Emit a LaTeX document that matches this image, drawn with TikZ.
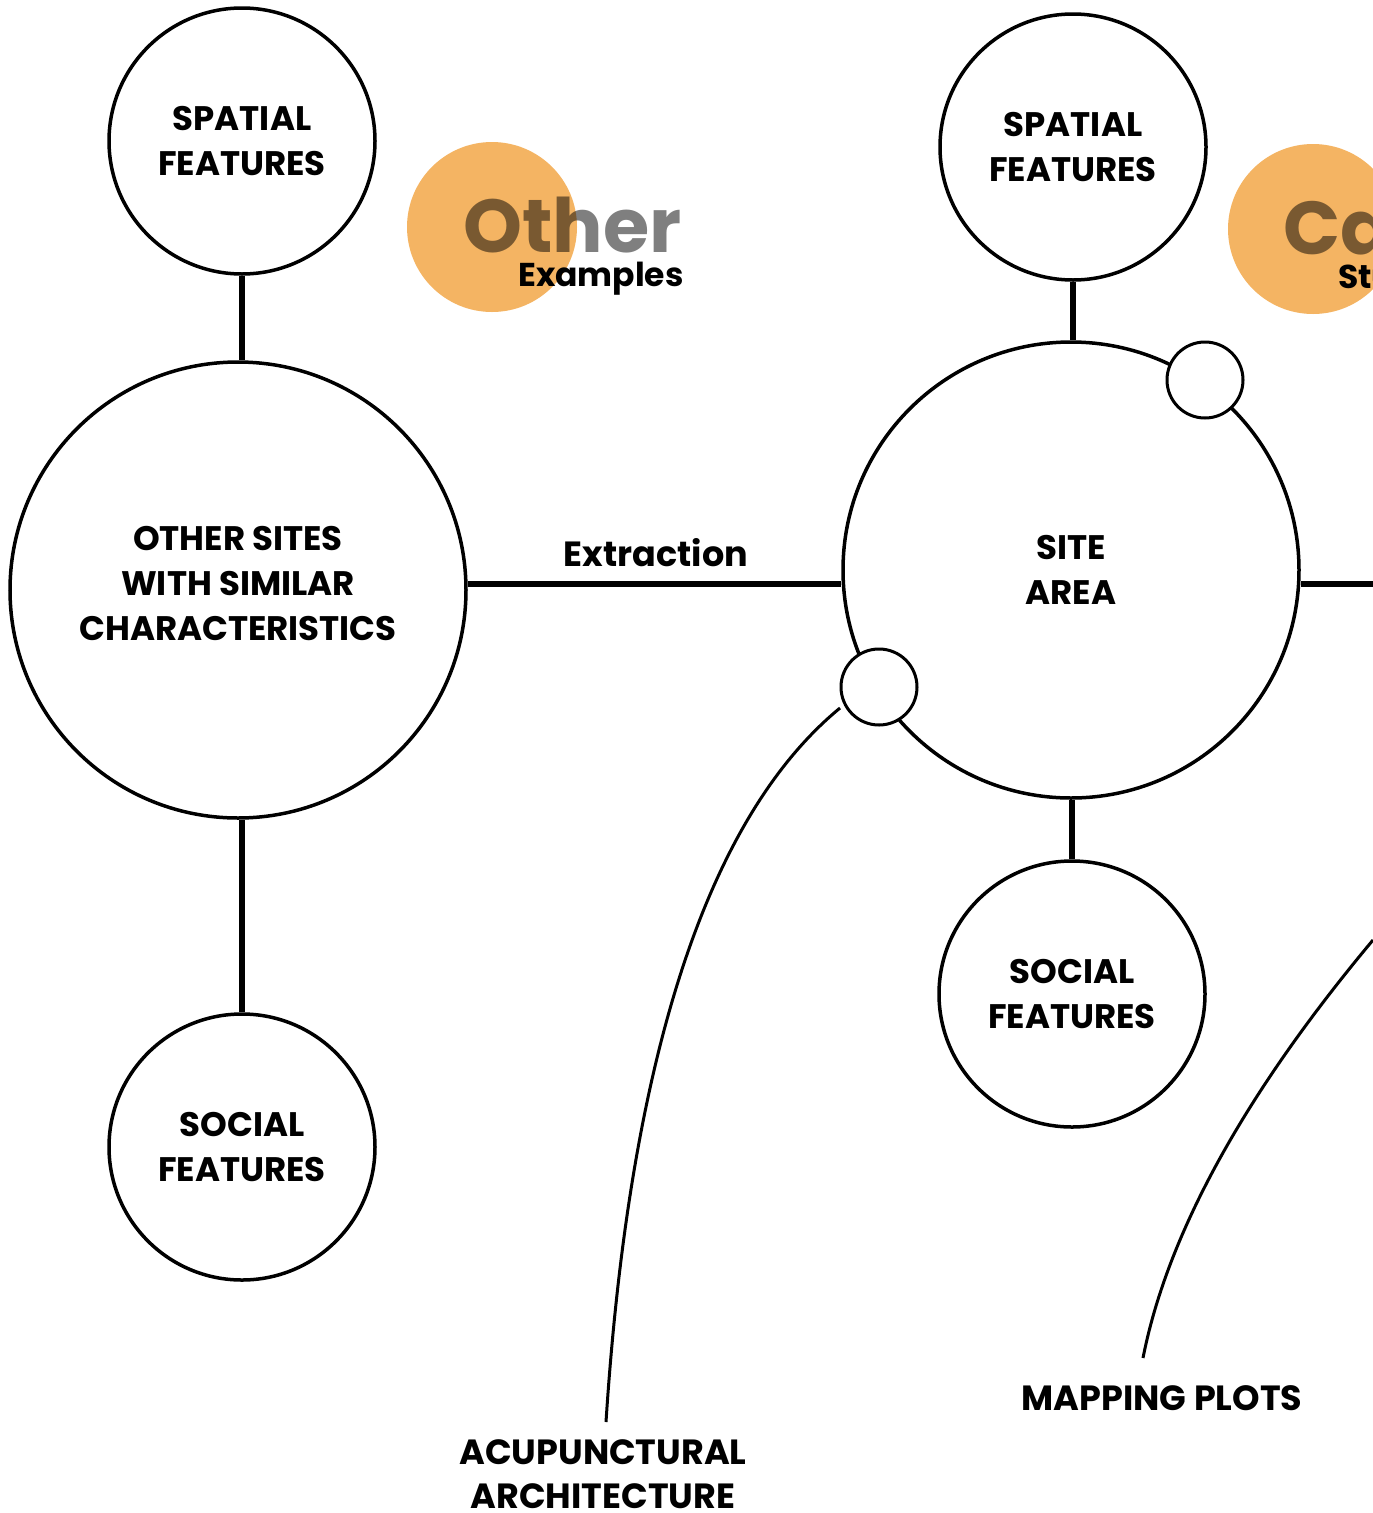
\documentclass[tikz,border=0pt]{standalone}
\usepackage{fontspec}
\setmainfont{Poppins}
\begin{document}
\begin{tikzpicture}[x=1pt,y=-1pt,
  bigc/.style={circle,draw,line width=3.5pt,fill=white,minimum size=456pt,inner sep=0pt,align=center,font=\fontsize{34}{45}\selectfont\bfseries},
  midc/.style={circle,draw,line width=3.5pt,fill=white,minimum size=266pt,inner sep=0pt,align=center,font=\fontsize{34}{45}\selectfont\bfseries},
  smallc/.style={circle,draw,line width=3pt,fill=white,minimum size=76pt,inner sep=0pt},
  link/.style={line width=6pt},
  curve/.style={line width=3pt},
  lbl/.style={align=center,font=\fontsize{35}{44}\selectfont\bfseries,inner sep=0pt},
  dot/.style={circle,fill=orangec,minimum size=170pt,inner sep=0pt}
]
\definecolor{orangec}{HTML}{F4B463}
\useasboundingbox (0,0) rectangle (1373,1513);
\clip (0,0) rectangle (1373,1513);
% orange badges
\node[dot] (dotA) at (492,227) {};
\node[anchor=base west,inner sep=0pt,text=black,text opacity=0.5,font=\fontsize{75}{75}\selectfont\bfseries] (otherT) at (463,252) {Other};
\node[anchor=base west,inner sep=0pt,font=\fontsize{33}{33}\selectfont\bfseries] (examplesT) at (518,286) {Examples};
\node[dot] (dotB) at (1313,229) {};
\node[anchor=base west,inner sep=0pt,text=black,text opacity=0.5,font=\fontsize{75}{75}\selectfont\bfseries] (caseT) at (1283,254) {Case};
\node[anchor=base west,inner sep=0pt,font=\fontsize{33}{33}\selectfont\bfseries] (studiesT) at (1338,288) {Studies};
% left cluster
\node[midc] (spL) at (242,141) {SPATIAL\\FEATURES};
\node[bigc] (other) at (238,590) {};
\node[align=center,inner sep=0pt,font=\fontsize{34}{45}\selectfont\bfseries] (otherT2) at (238,584) {OTHER SITES\\WITH SIMILAR\\CHARACTERISTICS};
\node[midc] (soL) at (242,1147) {SOCIAL\\FEATURES};
\draw[link] (spL.south) -- (spL.south |- other.north);
\draw[link] (soL.north) -- (soL.north |- other.south);
% right cluster
\node[midc] (spR) at (1073,147) {SPATIAL\\FEATURES};
\node[bigc] (site) at (1071,570) {SITE\\AREA};
\node[midc] (soR) at (1072,994) {SOCIAL\\FEATURES};
\draw[link] (spR.south) -- (spR.south |- site.north);
\draw[link] (soR.north) -- (soR.north |- site.south);
\node[smallc] (smA) at (1205,380) {};
\node[smallc] (smB) at (879,687) {};
\coordinate (rEnd) at (1373,584);
\draw[link] (site.east |- rEnd) -- (rEnd);
\draw[link] (other.east |- 0,584) coordinate (exA) -- (site.west |- 0,584) coordinate (exB);
\node[lbl,anchor=base] (extr) at (656,566) {Extraction};
% labels and curves
\node[lbl] (acu) at (603,1474) {ACUPUNCTURAL\\ARCHITECTURE};
\node[lbl] (map) at (1162,1398) {MAPPING PLOTS};
\coordinate (cA) at (840,708);
\coordinate (cB) at (606,1422);
\draw[curve] (cA) .. controls (710,815) and (630,1050) .. (cB);
\coordinate (cC) at (1373,940);
\coordinate (cD) at (1143,1358);
\draw[curve] (cC) .. controls (1260,1075) and (1170,1220) .. (cD);
\end{tikzpicture}
\end{document}
